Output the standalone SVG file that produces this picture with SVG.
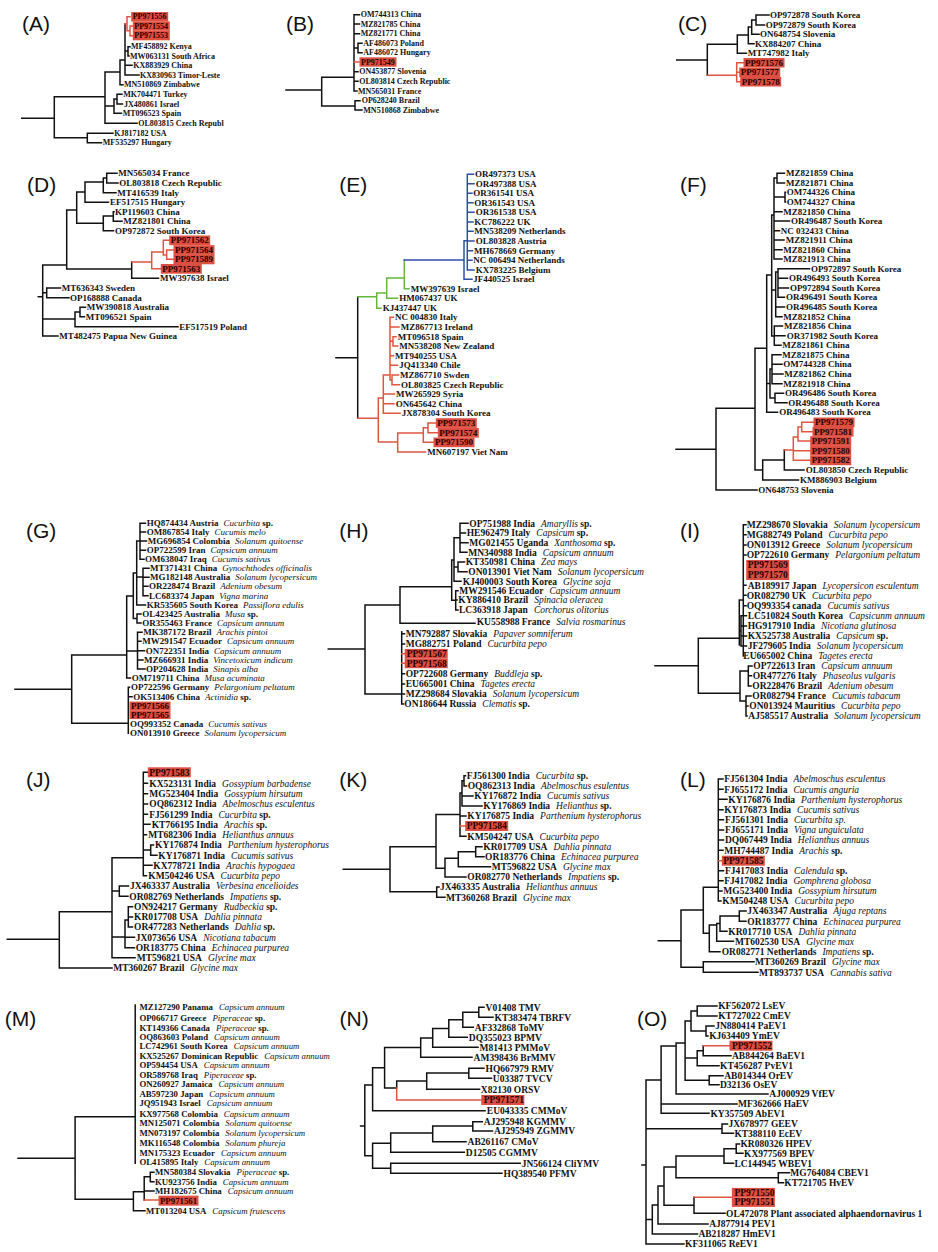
<svg xmlns="http://www.w3.org/2000/svg" width="938" height="1252" viewBox="0 0 938 1252">
<style>
text{font-family:"Liberation Serif","Times New Roman",serif;font-weight:bold;fill:#111}
.i{font-style:italic;font-weight:normal}
.pl{font-family:"Liberation Sans",Arial,sans-serif;font-weight:normal;font-size:21px;fill:#111}
.t{fill:none;stroke:#111;stroke-width:1.5;stroke-linecap:square}
.r{stroke:#e0553f}
.bl{stroke:#2c4fa6}
.gr{stroke:#63b83c}
.hl{fill:#dc4f42}
.ht{fill:#2a0000}
</style>
<rect width="938" height="1252" fill="#fff"/>

<!-- ===== A ===== -->
<g id="panelA">
<text class="pl" x="22" y="31">(A)</text>
<g id="A-edges" class="t">
<path d="M21.7 118.3H54.3M54.3 96.7V137.7M54.3 137.7H87.3M87.3 133.3V142.7M87.3 133.3H113M87.3 142.7H101.5M54.3 96.7H105M105 72V123.3M105 123.3H137M105 106H114M114 99V113.3M114 113.3H121.5M114 99H117M117 94.3V104M117 94.3H122M117 104H122.5M105 72H120M120 60V84.7M120 84.7H123M120 60H125M125 24V75M125 75H139M125 65.3H132M125 51H128M128 46.7V56M128 46.7H130M128 56H129"/>
<path class="r" d="M125 24H127M127 16.7V30.8M127 16.7H130M127 30.8H130M130 26V35.7M130 26H132.5M130 35.7H132.5"/>
</g>
<g font-size="8">
<g id="A-PP971556"><rect class="hl" x="131.2" y="12.1" width="37" height="9.4"/><text class="ht" x="132.7" y="19.4">PP971556</text></g>
<g id="A-PP971554"><rect class="hl" x="132.8" y="21.4" width="37" height="9.4"/><text class="ht" x="134.3" y="28.7">PP971554</text></g>
<g id="A-PP971553"><rect class="hl" x="132.8" y="30.9" width="37" height="9.4"/><text class="ht" x="134.3" y="38.4">PP971553</text></g>
<g id="A-MF458892"><text x="131" y="49.4">MF458892 Kenya</text></g>
<g id="A-MW063131"><text x="130" y="58.7">MW063131 South Africa</text></g>
<g id="A-KX883929"><text x="133.3" y="68">KX883929 China</text></g>
<g id="A-KX830963"><text x="140" y="77.7">KX830963 Timor-Leste</text></g>
<g id="A-MN510869"><text x="124" y="87.4">MN510869 Zimbabwe</text></g>
<g id="A-MK704471"><text x="123.3" y="97">MK704471 Turkey</text></g>
<g id="A-JX480861"><text x="124" y="106.7">JX480861 Israel</text></g>
<g id="A-MT096523"><text x="122.7" y="116">MT096523 Spain</text></g>
<g id="A-OL803815"><text x="138.3" y="126">OL803815 Czech Republ</text></g>
<g id="A-KJ817182"><text x="114.3" y="136">KJ817182 USA</text></g>
<g id="A-MF535297"><text x="102.7" y="145.4">MF535297 Hungary</text></g>
</g>
</g>

<!-- ===== B ===== -->
<g id="panelB">
<text class="pl" x="286" y="31">(B)</text>
<g id="B-edges" class="t">
<path d="M286 90H321.7M321.7 77.3V106M321.7 106H355M355 100.7V110M355 100.7H360M355 110H362M321.7 77.3H354M354 14.7V91M354 14.7H359.5M354 24H359.5M354 33.7H359.5M354 48H358M358 43.3V52.7M358 43.3H362M358 52.7H362M354 71.7H358M354 81.3H358M354 91H357"/>
<path class="r" d="M354 62H359"/>
</g>
<g font-size="8">
<g id="B-OM744313"><text x="360.7" y="17.4">OM744313 China</text></g>
<g id="B-MZ821785"><text x="360.7" y="26.7">MZ821785 China</text></g>
<g id="B-MZ821771"><text x="360.7" y="36.4">MZ821771 China</text></g>
<g id="B-AF486073"><text x="363.3" y="46">AF486073 Poland</text></g>
<g id="B-AF486072"><text x="363.3" y="55.4">AF486072 Hungary</text></g>
<g id="B-PP971549"><rect class="hl" x="359.5" y="57.3" width="37" height="9.4"/><text class="ht" x="361" y="64.7">PP971549</text></g>
<g id="B-ON453877"><text x="359.3" y="74.4">ON453877 Slovenia</text></g>
<g id="B-OL803814"><text x="359.3" y="84">OL803814 Czech Republic</text></g>
<g id="B-MN565031"><text x="358" y="93.7">MN565031 France</text></g>
<g id="B-OP628240"><text x="361.7" y="103.4">OP628240 Brazil</text></g>
<g id="B-MN510868"><text x="363.3" y="112.7">MN510868 Zimbabwe</text></g>
</g>
</g>

<!-- ===== C ===== -->
<g id="panelC">
<text class="pl" x="678" y="31">(C)</text>
<g id="C-edges" class="t">
<path d="M676.7 60H707.3M707.3 44.3V75.3M707.3 44.3H737.3M737.3 35V53.3M737.3 53.3H746.5M737.3 35H748.3M748.3 27V43.7M748.3 43.7H754M748.3 27H751.7M751.7 20V34.3M751.7 34.3H759M751.7 20H756M756 15V25M756 15H769M756 25H764.5"/>
<path class="r" d="M707.3 75.3H736.7M736.7 62.7V81.7M736.7 62.7H744M736.7 72.3H739.5M736.7 81.7H740.5"/>
</g>
<g font-size="9">
<g id="C-OP972878"><text x="770" y="18.1">OP972878 South Korea</text></g>
<g id="C-OP972879"><text x="765.7" y="28.1">OP972879 South Korea</text></g>
<g id="C-ON648754"><text x="760" y="37.4">ON648754 Slovenia</text></g>
<g id="C-KX884207"><text x="755" y="46.8">KX884207 China</text></g>
<g id="C-MT747982"><text x="747.7" y="56.4">MT747982 Italy</text></g>
<g id="C-PP971576"><rect class="hl" x="743.5" y="58" width="41" height="9.5"/><text class="ht" x="745" y="65.8">PP971576</text></g>
<g id="C-PP971577"><rect class="hl" x="739.2" y="67.6" width="41" height="9.5"/><text class="ht" x="740.7" y="75.4">PP971577</text></g>
<g id="C-PP971578"><rect class="hl" x="740.2" y="77" width="41" height="9.5"/><text class="ht" x="741.7" y="84.8">PP971578</text></g>
</g>
</g>

<!-- ===== D ===== -->
<g id="panelD">
<text class="pl" x="27" y="191.5">(D)</text>
<g id="D-edges" class="t">
<path d="M38.3 296.7H42.7M42.7 265V336M42.7 336H58M42.7 265H66.7M42.7 292.8H46.7M46.7 288V297.7M46.7 288H60.5M46.7 297.7H69M42.7 319H75M75 312V326.7M75 326.7H178M75 312H80M80 307.3V316.7M80 307.3H85.5M80 316.7H84.5M66.7 210V269M66.7 269H131.7M66.7 210H76.7M76.7 192V223.3M76.7 192H85M85 182V202.3M85 202.3H108.5M85 182H103.3M103.3 178V192.7M103.3 192.7H116M103.3 178H106.7M106.7 173.3V183M106.7 173.3H117M106.7 183H118M76.7 223.3H103.3M103.3 216V230.7M103.3 230.7H113.5M103.3 216H113.3M113.3 211.7V221.3M113.3 211.7H114M113.3 221.3H122M131.7 262V278.3M131.7 278.3H158.5"/>
<path class="r" d="M131.7 262H151.7M151.7 252V268.7M151.7 268.7H160.5M151.7 252H163.3M163.3 240.3V255M163.3 240.3H169M163.3 255H166.7M166.7 250V259.3M166.7 250H173.3M166.7 259.3H173.3"/>
</g>
<g font-size="9">
<g id="D-MN565034"><text x="118.3" y="176.4">MN565034 France</text></g>
<g id="D-OL803818"><text x="119.3" y="186.1">OL803818 Czech Republic</text></g>
<g id="D-MT416539"><text x="117.3" y="195.8">MT416539 Italy</text></g>
<g id="D-EF517515"><text x="110" y="205.4">EF517515 Hungary</text></g>
<g id="D-KP119603"><text x="115" y="214.8">KP119603 China</text></g>
<g id="D-MZ821801"><text x="123.3" y="224.4">MZ821801 China</text></g>
<g id="D-OP972872"><text x="115" y="233.8">OP972872 South Korea</text></g>
<g id="D-PP971562"><rect class="hl" x="169.2" y="235.5" width="41" height="9.7"/><text class="ht" x="170.7" y="243.4">PP971562</text></g>
<g id="D-PP971564"><rect class="hl" x="173.5" y="245.2" width="41" height="9.7"/><text class="ht" x="175" y="253.1">PP971564</text></g>
<g id="D-PP971589"><rect class="hl" x="173.5" y="254.6" width="41" height="9.7"/><text class="ht" x="175" y="262.4">PP971589</text></g>
<g id="D-PP971563"><rect class="hl" x="160.8" y="264" width="41" height="9.7"/><text class="ht" x="162.3" y="271.8">PP971563</text></g>
<g id="D-MW397638"><text x="160" y="281.4">MW397638 Israel</text></g>
<g id="D-MT636343"><text x="61.7" y="291.1">MT636343 Sweden</text></g>
<g id="D-OP168888"><text x="70" y="300.8">OP168888 Canada</text></g>
<g id="D-MW390818"><text x="86.7" y="310.4">MW390818 Australia</text></g>
<g id="D-MT096521"><text x="85.7" y="319.8">MT096521 Spain</text></g>
<g id="D-EF517519"><text x="179.3" y="329.8">EF517519 Poland</text></g>
<g id="D-MT482475"><text x="59.3" y="339.1">MT482475 Papua New Guinea</text></g>
</g>
</g>

<!-- ===== E ===== -->
<g id="panelE">
<text class="pl" x="339.3" y="191.5">(E)</text>
<g id="E-edges" class="t">
<path d="M336 357.7H357.7M357.7 296.7V418.3"/>
<path class="gr" d="M357.7 296.7H376.7M376.7 293V308.3M376.7 308.3H381M376.7 293H386.7M386.7 278V298.3M386.7 298.3H397.5M386.7 278H404.3M404.3 260V288.7M404.3 288.7H409"/>
<path class="bl" d="M404.3 260H464M464 240.7V279.3M464 279.3H472M464 240.7H467.3M467.3 174.3V270M467.3 174.3H473.5M467.3 183.7H474M467.3 193.3H472M467.3 202.7H473M467.3 212.3H474M467.3 222H473M467.3 231.3H473M467.3 241H474M467.3 250.7H472.5M467.3 260.3H472M467.3 270H474"/>
<path class="r" d="M357.7 418.3H378.3M378.3 398V442M378.3 442H397.7M378.3 398H383.3M383.3 375V413.3M383.3 413.3H400M383.3 403.7H394M383.3 394H394.5M383.3 375H390M390 317.3V380M390 317.3H393.5M390 327H399M390 341.3H393M393 336.7V346M393 336.7H396M393 346H397.7M390 355.7H393.5M390 365.3H397.5M390 380H392M392 375V384.7M392 375H398.5M392 384.7H399.5M397.7 433V452M397.7 452H425.5M397.7 433H423.3M423.3 427.8V442.3M423.3 442.3H433.3M423.3 427.8H428M428 423V432.7M428 423H435.5M428 432.7H437.5"/>
</g>
<g font-size="9">
<g id="E-OR497373"><text x="475" y="177.4">OR497373 USA</text></g>
<g id="E-OR497388"><text x="475.7" y="186.8">OR497388 USA</text></g>
<g id="E-OR361541"><text x="473.3" y="196.4">OR361541 USA</text></g>
<g id="E-OR361543"><text x="474.3" y="205.8">OR361543 USA</text></g>
<g id="E-OR361538"><text x="475.7" y="215.4">OR361538 USA</text></g>
<g id="E-KC786222"><text x="474.3" y="225.1">KC786222 UK</text></g>
<g id="E-MN538209"><text x="474.3" y="234.4">MN538209 Netherlands</text></g>
<g id="E-OL803828"><text x="475.7" y="244.1">OL803828 Austria</text></g>
<g id="E-MH678669"><text x="474" y="253.8">MH678669 Germany</text></g>
<g id="E-NC006494"><text x="473.3" y="263.4">NC 006494 Netherlands</text></g>
<g id="E-KX783225"><text x="475.7" y="273.1">KX783225 Belgium</text></g>
<g id="E-JF440525"><text x="473.3" y="282.4">JF440525 Israel</text></g>
<g id="E-MW397639"><text x="410.7" y="291.8">MW397639 Israel</text></g>
<g id="E-HM067437"><text x="399.3" y="301.4">HM067437 UK</text></g>
<g id="E-KJ437447"><text x="382.7" y="311.1">KJ437447 UK</text></g>
<g id="E-NC004830"><text x="395" y="320.4">NC 004830 Italy</text></g>
<g id="E-MZ867713"><text x="400.7" y="330.1">MZ867713 Ireland</text></g>
<g id="E-MT096518"><text x="397.7" y="339.8">MT096518 Spain</text></g>
<g id="E-MN538208"><text x="399.3" y="349.1">MN538208 New Zealand</text></g>
<g id="E-MT940255"><text x="395" y="358.8">MT940255 USA</text></g>
<g id="E-JQ413340"><text x="399.3" y="368.4">JQ413340 Chile</text></g>
<g id="E-MZ867710"><text x="400" y="378.1">MZ867710 Swden</text></g>
<g id="E-OL803825"><text x="401" y="387.8">OL803825 Czech Republic</text></g>
<g id="E-MW265929"><text x="396" y="397.1">MW265929 Syria</text></g>
<g id="E-ON645642"><text x="395.7" y="406.8">ON645642 China</text></g>
<g id="E-JX878304"><text x="401.7" y="416.4">JX878304 South Korea</text></g>
<g id="E-PP971573"><rect class="hl" x="435.8" y="418.2" width="41" height="9.7"/><text class="ht" x="437.3" y="426.1">PP971573</text></g>
<g id="E-PP971574"><rect class="hl" x="437.8" y="427.9" width="41" height="9.7"/><text class="ht" x="439.3" y="435.8">PP971574</text></g>
<g id="E-PP971590"><rect class="hl" x="433.5" y="437.5" width="41" height="9.7"/><text class="ht" x="435" y="445.4">PP971590</text></g>
<g id="E-MN607197"><text x="427.3" y="455.1">MN607197 Viet Nam</text></g>
</g>
</g>

<!-- ===== F ===== -->
<g id="panelF">
<text class="pl" x="680" y="191.5">(F)</text>
<g id="F-edges" class="t">
<path d="M676 449.3H716M716 408.3V490M716 490H757M716 408.3H755M755 348.3V470M755 470H762.7M762.7 460V480M762.7 480H798.5M762.7 460H784.3M784.3 450V470M784.3 470H804M755 348.3H766.7M766.7 275V412.3M766.7 412.3H777.5M766.7 275H771.7M766.7 383.5H770M771.7 215V336M771.7 215H774M771.7 290H775.7M771.7 336H774.3M774 178V259M774 178H777M777 173.3V183M777 173.3H784.5M777 183H784.5M774 197H785M785 192.3V202M785 192.3H785.5M785 202H785.5M774 211.7H782M774 221H789.5M774 230.7H779.5M774 240H784M774 249.7H782M774 259H782M775.7 272V316.7M775.7 272H778M778 268.7V297.3M778 268.7H809.5M778 278.3H787.5M778 288H788.5M778 297.3H784.5M775.7 307H784.5M775.7 316.7H782M774.3 326V345.3M774.3 326H782.5M774.3 335.7H785M774.3 345.3H781M770 369V398M770 369H772M772 354.7V383.7M772 354.7H781M772 364.3H782M772 374H783M772 383.7H782M770 398H775M775 393.3V402.7M775 393.3H783.5M775 402.7H787"/>
<path class="r" d="M784.3 450H793.3M793.3 437V460.3M793.3 460.3H810.5M793.3 450.7H810.5M793.3 437H798M798 427V441M798 441H810.5M798 427H801.7M801.7 422.3V431.7M801.7 422.3H813.5M801.7 431.7H812.5"/>
</g>
<g font-size="9">
<g id="F-MZ821859"><text x="786" y="176.4">MZ821859 China</text></g>
<g id="F-MZ821871"><text x="786" y="186.1">MZ821871 China</text></g>
<g id="F-OM744326"><text x="786.7" y="195.4">OM744326 China</text></g>
<g id="F-OM744327"><text x="786.7" y="205.1">OM744327 China</text></g>
<g id="F-MZ821850"><text x="783.3" y="214.8">MZ821850 China</text></g>
<g id="F-OR496487"><text x="791" y="224.1">OR496487 South Korea</text></g>
<g id="F-NC032433"><text x="780.7" y="233.8">NC 032433 China</text></g>
<g id="F-MZ821911"><text x="785.7" y="243.1">MZ821911 China</text></g>
<g id="F-MZ821860"><text x="783.3" y="252.8">MZ821860 China</text></g>
<g id="F-MZ821913"><text x="783.3" y="262.1">MZ821913 China</text></g>
<g id="F-OP972897"><text x="811" y="271.8">OP972897 South Korea</text></g>
<g id="F-OR496493"><text x="789" y="281.4">OR496493 South Korea</text></g>
<g id="F-OP972894"><text x="790" y="291.1">OP972894 South Korea</text></g>
<g id="F-OR496491"><text x="786" y="300.4">OR496491 South Korea</text></g>
<g id="F-OR496485"><text x="786" y="310.1">OR496485 South Korea</text></g>
<g id="F-MZ821852"><text x="783.3" y="319.8">MZ821852 China</text></g>
<g id="F-MZ821856"><text x="784" y="329.1">MZ821856 China</text></g>
<g id="F-OR371982"><text x="786.7" y="338.8">OR371982 South Korea</text></g>
<g id="F-MZ821861"><text x="782.3" y="348.4">MZ821861 China</text></g>
<g id="F-MZ821875"><text x="782.3" y="357.8">MZ821875 China</text></g>
<g id="F-OM744328"><text x="783.3" y="367.4">OM744328 China</text></g>
<g id="F-MZ821862"><text x="784.3" y="377.1">MZ821862 China</text></g>
<g id="F-MZ821918"><text x="783.3" y="386.8">MZ821918 China</text></g>
<g id="F-OR496486"><text x="785" y="396.4">OR496486 South Korea</text></g>
<g id="F-OR496488"><text x="788.3" y="405.8">OR496488 South Korea</text></g>
<g id="F-OR496483"><text x="779.3" y="415.4">OR496483 South Korea</text></g>
<g id="F-PP971579"><rect class="hl" x="813.5" y="417.5" width="41" height="9.7"/><text class="ht" x="815" y="425.4">PP971579</text></g>
<g id="F-PP971581"><rect class="hl" x="812.5" y="426.9" width="41" height="9.7"/><text class="ht" x="814" y="434.8">PP971581</text></g>
<g id="F-PP971591"><rect class="hl" x="810.2" y="436.2" width="41" height="9.7"/><text class="ht" x="811.7" y="444.1">PP971591</text></g>
<g id="F-PP971580"><rect class="hl" x="810.2" y="445.9" width="41" height="9.7"/><text class="ht" x="811.7" y="453.8">PP971580</text></g>
<g id="F-PP971582"><rect class="hl" x="810.2" y="455.5" width="41" height="9.7"/><text class="ht" x="811.7" y="463.4">PP971582</text></g>
<g id="F-OL803850"><text x="805.7" y="473.1">OL803850 Czech Republic</text></g>
<g id="F-KM886903"><text x="800" y="483.1">KM886903 Belgium</text></g>
<g id="F-ON648753"><text x="758.3" y="493.1">ON648753 Slovenia</text></g>
</g>
</g>

<!-- ===== G ===== -->
<g id="panelG">
<text class="pl" x="26" y="538">(G)</text>
<g id="G-edges" class="t">
<path d="M15 689.3H71.7M71.7 655V723.3M71.7 655H126.7M71.7 723.3H128.3M128.3 687.3V733.3M128.3 687.3H129.5M128.3 696.7H132M126.7 596V678M126.7 678H130.5M126.7 651H137.5M126.7 596H133.3M137.5 632.3V669M137.5 632.3H142M137.5 641.3H141M137.5 650.7H144.5M137.5 660H143M137.5 669H145M133.3 573V618.5M133.3 573H136.7M133.3 618.5H137M137 614V623M137 614H141M137 623H141M136.7 541V605M136.7 541H140M136.7 577H143M136.7 605H145.5M140 523.3V559.3M140 523.3H145.5M140 532H145.5M140 541H146.5M140 550.3H145.5M140 559.3H144M143 568.3V595.7M143 568.3H149M143 577.3H149M143 586.3H148M143 595.7H148"/>
</g>
<g font-size="9">
<g id="G-HQ874434"><text x="146.7" y="526.3">HQ874434 Austria<tspan class="i" dx="5">Cucurbita</tspan> sp.</text></g>
<g id="G-OM867854"><text x="146.7" y="535">OM867854 Italy<tspan class="i" dx="5">Cucumis melo</tspan></text></g>
<g id="G-MG696854"><text x="147.7" y="544">MG696854 Colombia<tspan class="i" dx="5">Solanum quitoense</tspan></text></g>
<g id="G-OP722599"><text x="146.7" y="553.3">OP722599 Iran<tspan class="i" dx="5">Capsicum annuum</tspan></text></g>
<g id="G-OM638047"><text x="145" y="562.3">OM638047 Iraq<tspan class="i" dx="5">Cucumis sativus</tspan></text></g>
<g id="G-MT371431"><text x="150" y="571.3">MT371431 China<tspan class="i" dx="5">Gynochthodes officinalis</tspan></text></g>
<g id="G-MG182148"><text x="150" y="580.3">MG182148 Australia<tspan class="i" dx="5">Solanum lycopersicum</tspan></text></g>
<g id="G-OR228474"><text x="149" y="589.3">OR228474 Brazil<tspan class="i" dx="5">Adenium obesum</tspan></text></g>
<g id="G-LC683374"><text x="149" y="598.7">LC683374 Japan<tspan class="i" dx="5">Vigna marina</tspan></text></g>
<g id="G-KR535605"><text x="146.7" y="608">KR535605 South Korea<tspan class="i" dx="5">Passiflora edulis</tspan></text></g>
<g id="G-OL423425"><text x="142.3" y="617">OL423425 Australia<tspan class="i" dx="5">Musa</tspan> sp.</text></g>
<g id="G-OR355463"><text x="142.3" y="626">OR355463 France<tspan class="i" dx="5">Capsicum annuum</tspan></text></g>
<g id="G-MK387172"><text x="143.3" y="635.3">MK387172 Brazil<tspan class="i" dx="5">Arachis pintoi</tspan></text></g>
<g id="G-MW291547"><text x="142.3" y="644.3">MW291547 Ecuador<tspan class="i" dx="5">Capsicum annuum</tspan></text></g>
<g id="G-ON722351"><text x="145.7" y="653.7">ON722351 India<tspan class="i" dx="5">Capsicum annuum</tspan></text></g>
<g id="G-MZ666931"><text x="144" y="663">MZ666931 India<tspan class="i" dx="5">Vincetoxicum indicum</tspan></text></g>
<g id="G-OP204628"><text x="146" y="672">OP204628 India<tspan class="i" dx="5">Sinapis alba</tspan></text></g>
<g id="G-OM719711"><text x="131.7" y="681">OM719711 China<tspan class="i" dx="5">Musa acuminata</tspan></text></g>
<g id="G-OP722596"><text x="131" y="690.3">OP722596 Germany<tspan class="i" dx="5">Pelargonium peltatum</tspan></text></g>
<g id="G-OK513406"><text x="133.3" y="699.7">OK513406 China<tspan class="i" dx="5">Actinidia</tspan> sp.</text></g>
<g id="G-PP971566"><rect class="hl" x="129.5" y="701.6" width="41" height="8.8"/><text class="ht" x="131" y="709">PP971566</text></g>
<g id="G-PP971565"><rect class="hl" x="129.5" y="710.3" width="41" height="8.8"/><text class="ht" x="131" y="717.7">PP971565</text></g>
<g id="G-OQ993352"><text x="130" y="727.3">OQ993352 Canada<tspan class="i" dx="5">Cucumis sativus</tspan></text></g>
<g id="G-ON013910"><text x="130" y="736.3">ON013910 Greece<tspan class="i" dx="5">Solanum lycopersicum</tspan></text></g>
</g>
</g>

<!-- ===== H ===== -->
<g id="panelH">
<text class="pl" x="339.3" y="538">(H)</text>
<g id="H-edges" class="t">
<path d="M328.3 649H365M365 605V694M365 605H400M365 694H401.7M401.7 631.7V704M401.7 633.7H404.5M401.7 644H404.5M401.7 673.7H404.5M401.7 684H404.5M401.7 694H404.5M401.7 704H403.5M400 586.7V623.3M400 623.3H475M400 586.7H451.7M451.7 560V600.3M451.7 600.3H455.7M455.7 590.7V610M455.7 590.7H458M455.7 600H457M455.7 610H458M451.7 560H454M454 537.8V581.3M454 581.3H461M454 537.8H460M460 523.3V552.3M460 523.3H468M460 533H465.5M460 542.7H468M460 552.3H467M454 567H458M458 562V571.7M458 562H464.5M458 571.7H467"/>
<path class="r" d="M401.7 653.7H404.5M401.7 663.3H404.5"/>
</g>
<g font-size="9.5">
<g id="H-OP751988"><text x="469.3" y="526.5">OP751988 India<tspan class="i" dx="6">Amaryllis</tspan> sp.</text></g>
<g id="H-HE962479"><text x="466.7" y="536.2">HE962479 Italy<tspan class="i" dx="6">Capsicum</tspan> sp.</text></g>
<g id="H-MG021455"><text x="469.3" y="545.9">MG021455 Uganda<tspan class="i" dx="6">Xanthosoma</tspan> sp.</text></g>
<g id="H-MN340988"><text x="468.3" y="555.5">MN340988 India<tspan class="i" dx="6">Capsicum annuum</tspan></text></g>
<g id="H-KT350981"><text x="465.7" y="565.2">KT350981 China<tspan class="i" dx="6">Zea mays</tspan></text></g>
<g id="H-ON013901"><text x="468.3" y="574.9">ON013901 Viet Nam<tspan class="i" dx="6">Solanum lycopersicum</tspan></text></g>
<g id="H-KJ400003"><text x="462.7" y="584.5">KJ400003 South Korea<tspan class="i" dx="6">Glycine soja</tspan></text></g>
<g id="H-MW291546"><text x="459.3" y="593.9">MW291546 Ecuador<tspan class="i" dx="6">Capsicum annuum</tspan></text></g>
<g id="H-KY886410"><text x="458.3" y="603.2">KY886410 Brazil<tspan class="i" dx="6">Spinacia oleracea</tspan></text></g>
<g id="H-LC363918"><text x="459" y="613.2">LC363918 Japan<tspan class="i" dx="6">Corchorus olitorius</tspan></text></g>
<g id="H-KU558988"><text x="476.7" y="624.9">KU558988 France<tspan class="i" dx="6">Salvia rosmarinus</tspan></text></g>
<g id="H-MN792887"><text x="405.7" y="636.9">MN792887 Slovakia<tspan class="i" dx="6">Papaver somniferum</tspan></text></g>
<g id="H-MG882751"><text x="405.7" y="647.2">MG882751 Poland<tspan class="i" dx="6">Cucurbita pepo</tspan></text></g>
<g id="H-PP971567"><rect class="hl" x="404.7" y="648.9" width="43" height="9.7"/><text class="ht" x="406.7" y="656.9">PP971567</text></g>
<g id="H-PP971568"><rect class="hl" x="404.7" y="658.5" width="43" height="9.7"/><text class="ht" x="406.7" y="666.5">PP971568</text></g>
<g id="H-OP722608"><text x="405.7" y="676.9">OP722608 Germany<tspan class="i" dx="6">Buddleja</tspan> sp.</text></g>
<g id="H-EU665001"><text x="405.7" y="687.2">EU665001 China<tspan class="i" dx="6">Tagetes erecta</tspan></text></g>
<g id="H-MZ298684"><text x="405.7" y="697.2">MZ298684 Slovakia<tspan class="i" dx="6">Solanum lycopersicum</tspan></text></g>
<g id="H-ON186644"><text x="404.3" y="707.2">ON186644 Russia<tspan class="i" dx="6">Clematis</tspan> sp.</text></g>
</g>
</g>

<!-- ===== I ===== -->
<g id="panelI">
<text class="pl" x="680" y="538">(I)</text>
<g id="I-edges" class="t">
<path d="M655 665.7H698.3M698.3 638.3V693.3M698.3 638.3H739.3M739.3 600V645M739.3 600H743.3M739.3 631H741M743.3 524.7V656M743.3 524.7H746M743.3 534.7H746M743.3 545H746M743.3 555H746M743.3 585.3H746M743.3 595.3H746M743.3 605.7H746M741 615.7V646M741 615.7H746.5M741 626H746.5M741 636H746.5M741 646H746.5M698.3 693.3H740M740 671V701M740 671H748.3M748.3 666V686M748.3 666H752M748.3 675.7H751.5M748.3 686H751M740 701H746M746 696V716M746 696H751M746 706H748M746 716H747"/>
</g>
<g font-size="9.5">
<g id="I-MZ298670"><text x="746.7" y="527.9">MZ298670 Slovakia<tspan class="i" dx="6">Solanum lycopersicum</tspan></text></g>
<g id="I-MG882749"><text x="746.7" y="537.9">MG882749 Poland<tspan class="i" dx="6">Cucurbita pepo</tspan></text></g>
<g id="I-ON013912"><text x="746.7" y="548.2">ON013912 Greece<tspan class="i" dx="6">Solanum lycopersicum</tspan></text></g>
<g id="I-OP722610"><text x="746.7" y="558.2">OP722610 Germany<tspan class="i" dx="6">Pelargonium peltatum</tspan></text></g>
<g id="I-PP971569"><rect class="hl" x="746.2" y="560" width="43" height="10"/><text class="ht" x="747.7" y="568.2">PP971569</text></g>
<g id="I-PP971570"><rect class="hl" x="746.2" y="570" width="43" height="10"/><text class="ht" x="747.7" y="578.2">PP971570</text></g>
<g id="I-AB189917"><text x="747.7" y="588.5">AB189917 Japan<tspan class="i" dx="6">Lycopersicon esculentum</tspan></text></g>
<g id="I-OR082790"><text x="746.7" y="598.5">OR082790 UK<tspan class="i" dx="6">Cucurbita pepo</tspan></text></g>
<g id="I-OQ993354"><text x="746.7" y="608.9">OQ993354 canada<tspan class="i" dx="6">Cucumis sativus</tspan></text></g>
<g id="I-LC510824"><text x="747.7" y="618.9">LC510824 South Korea<tspan class="i" dx="6">Capsicunm annuum</tspan></text></g>
<g id="I-HG917910"><text x="747.7" y="629.2">HG917910 India<tspan class="i" dx="6">Nicotiana glutinosa</tspan></text></g>
<g id="I-KX525738"><text x="747.7" y="639.2">KX525738 Australia<tspan class="i" dx="6">Capsicum</tspan> sp.</text></g>
<g id="I-JF279605"><text x="747.7" y="649.2">JF279605 India<tspan class="i" dx="6">Solanum lycopersicum</tspan></text></g>
<g id="I-EU665002"><text x="743.3" y="659.2">EU665002 China<tspan class="i" dx="6">Tagetes erecta</tspan></text></g>
<g id="I-OP722613"><text x="753.3" y="669.2">OP722613 Iran<tspan class="i" dx="6">Capsicum annuum</tspan></text></g>
<g id="I-OR477276"><text x="752.7" y="678.9">OR477276 Italy<tspan class="i" dx="6">Phaseolus vulgaris</tspan></text></g>
<g id="I-OR228476"><text x="752.3" y="689.2">OR228476 Brazil<tspan class="i" dx="6">Adenium obesum</tspan></text></g>
<g id="I-OR082794"><text x="752.3" y="699.2">OR082794 France<tspan class="i" dx="6">Cucumis tabacum</tspan></text></g>
<g id="I-ON013924"><text x="749.3" y="709.2">ON013924 Mauritius<tspan class="i" dx="6">Cucurbita pepo</tspan></text></g>
<g id="I-AJ585517"><text x="748.3" y="719.2">AJ585517 Australia<tspan class="i" dx="6">Solanum lycopersicum</tspan></text></g>
</g>
</g>

<!-- ===== J ===== -->
<g id="panelJ">
<text class="pl" x="26" y="787">(J)</text>
<g id="J-edges" class="t">
<path d="M7.3 939.3H59.3M59.3 911.7V968M59.3 968H112M59.3 911.7H112M112 857.7V957.7M112 857.7H143.3M112 891H119.3M112 937H125M112 957.7H135M143.3 772.3V875.7M143.3 772.3H147.5M143.3 783.3H147.5M143.3 793.7H147.5M143.3 804H147.5M143.3 814.3H147.5M143.3 824.3H150M143.3 834.7H146.5M143.3 850H150.7M150.7 845V855.3M150.7 845H153.5M150.7 855.3H157M143.3 865.3H152M143.3 875.7H146.5M119.3 886V896.3M119.3 886H128.5M119.3 896.3H128M125 920V947.7M125 920H128.3M125 937.3H134.5M125 947.7H134.5M128.3 906.7V927M128.3 906.7H132.5M128.3 917H132.5M128.3 927H132.5"/>
</g>
<g font-size="9.5">
<g id="J-PP971583"><rect class="hl" x="147.8" y="767.3" width="43" height="10"/><text class="ht" x="149.3" y="775.5">PP971583</text></g>
<g id="J-KX523131"><text x="149.3" y="786.5">KX523131 India<tspan class="i" dx="6">Gossypium barbadense</tspan></text></g>
<g id="J-MG523404"><text x="149.3" y="796.9">MG523404 India<tspan class="i" dx="6">Gossypium hirsutum</tspan></text></g>
<g id="J-OQ862312"><text x="149.3" y="807.2">OQ862312 India<tspan class="i" dx="6">Abelmoschus esculentus</tspan></text></g>
<g id="J-FJ561299"><text x="149.3" y="817.5">FJ561299 India<tspan class="i" dx="6">Cucurbita</tspan> sp.</text></g>
<g id="J-KT766195"><text x="151.7" y="827.5">KT766195 India<tspan class="i" dx="6">Arachis</tspan> sp.</text></g>
<g id="J-MT682306"><text x="148.3" y="837.9">MT682306 India<tspan class="i" dx="6">Helianthus annuus</tspan></text></g>
<g id="J-KY176874"><text x="155" y="848.2">KY176874 India<tspan class="i" dx="6">Parthenium hysterophorus</tspan></text></g>
<g id="J-KY176871"><text x="158.3" y="858.5">KY176871 India<tspan class="i" dx="6">Cucumis sativus</tspan></text></g>
<g id="J-KX778721"><text x="153.3" y="868.5">KX778721 India<tspan class="i" dx="6">Arachis hypogaea</tspan></text></g>
<g id="J-KM504246"><text x="148.3" y="878.9">KM504246 USA<tspan class="i" dx="6">Cucurbita pepo</tspan></text></g>
<g id="J-JX463337"><text x="130" y="889.2">JX463337 Australia<tspan class="i" dx="6">Verbesina encelioides</tspan></text></g>
<g id="J-OR082769"><text x="129.3" y="899.5">OR082769 Netherlands<tspan class="i" dx="6">Impatiens</tspan> sp.</text></g>
<g id="J-ON924217"><text x="134" y="909.9">ON924217 Germany<tspan class="i" dx="6">Rudbeckia</tspan> sp.</text></g>
<g id="J-KR017708"><text x="134" y="920.2">KR017708 USA<tspan class="i" dx="6">Dahlia pinnata</tspan></text></g>
<g id="J-OR477283"><text x="134" y="930.2">OR477283 Netherlands<tspan class="i" dx="6">Dahlia</tspan> sp.</text></g>
<g id="J-JX073656"><text x="135.7" y="940.5">JX073656 USA<tspan class="i" dx="6">Nicotiana tabacum</tspan></text></g>
<g id="J-OR183775"><text x="135.7" y="950.9">OR183775 China<tspan class="i" dx="6">Echinacea purpurea</tspan></text></g>
<g id="J-MT596821"><text x="136.7" y="960.9">MT596821 USA<tspan class="i" dx="6">Glycine max</tspan></text></g>
<g id="J-MT360267"><text x="113.3" y="971.2">MT360267 Brazil<tspan class="i" dx="6">Glycine max</tspan></text></g>
</g>
</g>

<!-- ===== K ===== -->
<g id="panelK">
<text class="pl" x="339.3" y="787">(K)</text>
<g id="K-edges" class="t">
<path d="M343.3 869.3H390M390 846.7V891.7M390 846.7H436M390 891.7H436.7M436.7 887V897.3M436.7 887H439M436.7 897.3H445M436 814.6V868.3M436 814.6H460M436 868.3H445M445 858.3V877M445 877H466M445 858.3H458.3M458.3 851.7V866.7M458.3 866.7H490.5M458.3 851.7H475.7M475.7 846.7V856.7M475.7 846.7H482M475.7 856.7H484M460 793V836.3M460 836.3H466M460 816H466M460 793H462M462 780.8V806M462 780.8H464M464 775.7V786M464 775.7H465.5M464 786H466.5M462 796H473M462 806H482"/>
<path class="r" d="M460 826H465.2"/>
</g>
<g font-size="9.5">
<g id="K-FJ561300"><text x="466.7" y="778.9">FJ561300 India<tspan class="i" dx="6">Cucurbita</tspan> sp.</text></g>
<g id="K-OQ862313"><text x="467.7" y="789.2">OQ862313 India<tspan class="i" dx="6">Abelmoschus esulentus</tspan></text></g>
<g id="K-KY176872"><text x="474.3" y="799.2">KY176872 India<tspan class="i" dx="6">Cucumis sativus</tspan></text></g>
<g id="K-KY176869"><text x="483.3" y="809.2">KY176869 India<tspan class="i" dx="6">Helianthus</tspan> sp.</text></g>
<g id="K-KY176875"><text x="467.3" y="819.2">KY176875 India<tspan class="i" dx="6">Parthenium hysterophorus</tspan></text></g>
<g id="K-PP971584"><rect class="hl" x="465.2" y="821" width="43" height="10"/><text class="ht" x="466.7" y="829.2">PP971584</text></g>
<g id="K-KM504247"><text x="467.3" y="839.5">KM504247 USA<tspan class="i" dx="6">Cucurbita pepo</tspan></text></g>
<g id="K-KR017709"><text x="483.3" y="849.9">KR017709 USA<tspan class="i" dx="6">Dahlia pinnata</tspan></text></g>
<g id="K-OR183776"><text x="485" y="859.9">OR183776 China<tspan class="i" dx="6">Echinacea purpurea</tspan></text></g>
<g id="K-MT596822"><text x="491.7" y="869.9">MT596822 USA<tspan class="i" dx="6">Glycine max</tspan></text></g>
<g id="K-OR082770"><text x="467.3" y="880.2">OR082770 Netherlands<tspan class="i" dx="6">Impatiens</tspan> sp.</text></g>
<g id="K-JX463335"><text x="440" y="890.2">JX463335 Australia<tspan class="i" dx="6">Helianthus annuus</tspan></text></g>
<g id="K-MT360268"><text x="446" y="900.5">MT360268 Brazil<tspan class="i" dx="6">Glycine max</tspan></text></g>
</g>
</g>

<!-- ===== L ===== -->
<g id="panelL">
<text class="pl" x="680" y="787">(L)</text>
<g id="L-edges" class="t">
<path d="M658.3 940.7H681M681 910V967.3M681 967.3H703.3M703.3 961.7V972.3M703.3 961.7H754M703.3 972.3H758M681 910H703.3M703.3 887.3V933.3M703.3 887.3H718.3M703.3 933.3H709.3M718.3 779V901M718.3 779H723M718.3 789.3H723M718.3 799.3H727M718.3 809.7H723M718.3 819.7H723.5M718.3 830H723.5M718.3 840H723.5M718.3 850.3H723M718.3 870.7H723.5M718.3 880.7H723M718.3 891H722M718.3 901H721M709.3 925V951.7M709.3 951.7H720M709.3 925H716.7M716.7 923.6V941.3M716.7 941.3H733.5M716.7 923.6H720M720 916V931.3M720 931.3H727M720 916H739.3M739.3 911V921.3M739.3 911H746M739.3 921.3H746"/>
<path class="r" d="M718.3 860.7H721.8"/>
</g>
<g font-size="9.5">
<g id="L-FJ561304"><text x="724.3" y="782.2">FJ561304 India<tspan class="i" dx="6">Abelmoschus esculentus</tspan></text></g>
<g id="L-FJ655172"><text x="724.3" y="792.5">FJ655172 India<tspan class="i" dx="6">Cucumis anguria</tspan></text></g>
<g id="L-KY176876"><text x="728.3" y="802.5">KY176876 India<tspan class="i" dx="6">Parthenium hysterophorus</tspan></text></g>
<g id="L-KY176873"><text x="724.3" y="812.9">KY176873 India<tspan class="i" dx="6">Cucumis sativus</tspan></text></g>
<g id="L-FJ561301"><text x="725" y="822.9">FJ561301 India<tspan class="i" dx="6">Cucurbita sp.</tspan></text></g>
<g id="L-FJ655171"><text x="725" y="833.2">FJ655171 India<tspan class="i" dx="6">Vigna unguiculata</tspan></text></g>
<g id="L-DQ067449"><text x="725" y="843.2">DQ067449 India<tspan class="i" dx="6">Helianthus annuus</tspan></text></g>
<g id="L-MH744487"><text x="724.3" y="853.5">MH744487 India<tspan class="i" dx="6">Arachis</tspan> sp.</text></g>
<g id="L-PP971585"><rect class="hl" x="721.8" y="855.7" width="43" height="10"/><text class="ht" x="723.3" y="863.9">PP971585</text></g>
<g id="L-FJ417083"><text x="725" y="873.9">FJ417083 India<tspan class="i" dx="6">Calendula</tspan> sp.</text></g>
<g id="L-FJ417082"><text x="724.3" y="883.9">FJ417082 India<tspan class="i" dx="6">Gomphrena globosa</tspan></text></g>
<g id="L-MG523400"><text x="723.3" y="894.2">MG523400 India<tspan class="i" dx="6">Gossypium hirsutum</tspan></text></g>
<g id="L-KM504248"><text x="722.3" y="904.2">KM504248 USA<tspan class="i" dx="6">Cucurbita pepo</tspan></text></g>
<g id="L-JX463347"><text x="747.3" y="914.2">JX463347 Australia<tspan class="i" dx="6">Ajuga reptans</tspan></text></g>
<g id="L-OR183777"><text x="747.3" y="924.5">OR183777 China<tspan class="i" dx="6">Echinacea purpurea</tspan></text></g>
<g id="L-KR017710"><text x="728.3" y="934.5">KR017710 USA<tspan class="i" dx="6">Dahlia pinnata</tspan></text></g>
<g id="L-MT602530"><text x="735" y="944.5">MT602530 USA<tspan class="i" dx="6">Glycine max</tspan></text></g>
<g id="L-OR082771"><text x="721.7" y="954.9">OR082771 Netherlands<tspan class="i" dx="6">Impatiens</tspan> sp.</text></g>
<g id="L-MT360269"><text x="755" y="964.9">MT360269 Brazil<tspan class="i" dx="6">Glycine max</tspan></text></g>
<g id="L-MT893737"><text x="759" y="975.5">MT893737 USA<tspan class="i" dx="6">Cannabis sativa</tspan></text></g>
</g>
</g>

<!-- ===== M ===== -->
<g id="panelM">
<text class="pl" x="4.8" y="1026">(M)</text>
<g id="M-edges" class="t">
<path d="M18 1158.3H75.1M75.1 1116.7V1199.3M75.1 1116.7H135.2M135.2 1005V1163.3M75.1 1199.3H133.4M133.4 1191.7V1210.7M133.4 1210.7H145M133.4 1191.7H144.2M144.2 1176.7V1200M144.2 1191H154M144.2 1176.7H150.3M150.3 1172.3V1181.7M150.3 1172.3H154M150.3 1181.7H154"/>
<path class="r" d="M144.2 1200H158.5"/>
</g>
<g font-size="8.8">
<g id="M-MZ127290"><text x="139.4" y="1010.3">MZ127290 Panama<tspan class="i" dx="6">Capsicum annuum</tspan></text></g>
<g id="M-OP066717"><text x="139.4" y="1021">OP066717 Greece<tspan class="i" dx="6">Piperaceae</tspan> sp.</text></g>
<g id="M-KT149366"><text x="139.4" y="1031">KT149366 Canada<tspan class="i" dx="6">Piperaceae</tspan> sp.</text></g>
<g id="M-OQ863603"><text x="139.4" y="1040.3">OQ863603 Poland<tspan class="i" dx="6">Capsicum annuum</tspan></text></g>
<g id="M-LC742961"><text x="139.4" y="1049">LC742961 South Korea<tspan class="i" dx="6">Capsicum annuum</tspan></text></g>
<g id="M-KX525267"><text x="139.4" y="1059">KX525267 Dominican Republic<tspan class="i" dx="6">Capsicum annuum</tspan></text></g>
<g id="M-OP594454"><text x="139.4" y="1068">OP594454 USA<tspan class="i" dx="6">Capsicum annuum</tspan></text></g>
<g id="M-OR589768"><text x="139.4" y="1077.7">OR589768 Iraq<tspan class="i" dx="6">Piperaceae</tspan> sp.</text></g>
<g id="M-ON260927"><text x="139.4" y="1087.3">ON260927 Jamaica<tspan class="i" dx="6">Capsicum annuum</tspan></text></g>
<g id="M-AB597230"><text x="139.4" y="1097">AB597230 Japan<tspan class="i" dx="6">Capsicum annuum</tspan></text></g>
<g id="M-JQ951943"><text x="139.4" y="1106.3">JQ951943 Israel<tspan class="i" dx="6">Capsicum annuum</tspan></text></g>
<g id="M-KX977568"><text x="139.4" y="1117">KX977568 Colombia<tspan class="i" dx="6">Capsicum annuum</tspan></text></g>
<g id="M-MN125071"><text x="139.4" y="1126">MN125071 Colombia<tspan class="i" dx="6">Solanum quitoense</tspan></text></g>
<g id="M-MN073197"><text x="139.4" y="1135.7">MN073197 Colombia<tspan class="i" dx="6">Solanum lycopersicum</tspan></text></g>
<g id="M-MK116548"><text x="139.4" y="1145.7">MK116548 Colombia<tspan class="i" dx="6">Solanum phureja</tspan></text></g>
<g id="M-MN175323"><text x="139.4" y="1155.7">MN175323 Ecuador<tspan class="i" dx="6">Capsicum annuum</tspan></text></g>
<g id="M-OL415895"><text x="139.4" y="1165.3">OL415895 Italy<tspan class="i" dx="6">Capsicum annuum</tspan></text></g>
<g id="M-MN580384"><text x="155" y="1175.3">MN580384 Slovakia<tspan class="i" dx="6">Piperaceae</tspan> sp.</text></g>
<g id="M-KU923756"><text x="155" y="1184.7">KU923756 India<tspan class="i" dx="6">Capsicum annuum</tspan></text></g>
<g id="M-MH182675"><text x="155" y="1194">MH182675 China<tspan class="i" dx="6">Capsicum annuum</tspan></text></g>
<g id="M-PP971561"><rect class="hl" x="158.5" y="1195.7" width="40" height="10"/><text class="ht" x="160" y="1203.7">PP971561</text></g>
<g id="M-MT013204"><text x="146" y="1213.7">MT013204 USA<tspan class="i" dx="6">Capsicum frutescens</tspan></text></g>
</g>
</g>

<!-- ===== N ===== -->
<g id="panelN">
<text class="pl" x="339.6" y="1026">(N)</text>
<g id="N-edges" class="t">
<path d="M360.6 1126H364.8M364.8 1085V1155.8M364.8 1085H372.6M364.8 1155.8H372.6M372.6 1067.8V1110.7M372.6 1110.7H485M372.6 1067.8H384.6M384.6 1047.6V1088M384.6 1047.6H420.7M384.6 1088H396.7M396.7 1081V1088M396.7 1081H426.7M426.7 1073V1089.3M426.7 1089.3H479.5M426.7 1073H468.8M468.8 1068.3V1078.3M468.8 1068.3H484M468.8 1078.3H491.5M420.7 1038V1057.3M420.7 1057.3H472M420.7 1038H432.7M432.7 1028.5V1047.3M432.7 1047.3H478M432.7 1028.5H448.8M448.8 1019.8V1037.3M448.8 1037.3H467.3M448.8 1019.8H462.8M462.8 1012.3V1027.3M462.8 1027.3H473.3M462.8 1012.3H478.8M478.8 1007.3V1017.3M478.8 1007.3H484M478.8 1017.3H493M372.6 1143.3V1168.3M372.6 1143.3H390.7M372.6 1168.3H390.7M390.7 1133V1152.3M390.7 1133H432.7M390.7 1152.3H464.3M432.7 1126V1141.7M432.7 1141.7H466M432.7 1126H472.8M472.8 1121.7V1131M472.8 1121.7H482.3M472.8 1131H492.5M390.7 1163.3V1173.3M390.7 1163.3H520.2M390.7 1173.3H502"/>
<path class="r" d="M396.7 1088V1100M396.7 1100H481.3"/>
</g>
<g font-size="9.5">
<g id="N-V01408"><text x="485.6" y="1010.5">V01408 TMV</text></g>
<g id="N-KT383474"><text x="494.6" y="1020.5">KT383474 TBRFV</text></g>
<g id="N-AF332868"><text x="474.8" y="1030.5">AF332868 ToMV</text></g>
<g id="N-DQ355023"><text x="468.8" y="1040.5">DQ355023 BPMV</text></g>
<g id="N-M81413"><text x="479.6" y="1050.5">M81413 PMMoV</text></g>
<g id="N-AM398436"><text x="473.6" y="1060.5">AM398436 BrMMV</text></g>
<g id="N-HQ667979"><text x="485.6" y="1071.5">HQ667979 RMV</text></g>
<g id="N-U03387"><text x="492.8" y="1081.5">U03387 TVCV</text></g>
<g id="N-X82130"><text x="480.8" y="1092.5">X82130 ORSV</text></g>
<g id="N-PP971571"><rect class="hl" x="481.3" y="1095" width="43" height="10"/><text class="ht" x="483.8" y="1103.2">PP971571</text></g>
<g id="N-EU043335"><text x="486.8" y="1113.9">EU043335 CMMoV</text></g>
<g id="N-AJ295948"><text x="483.8" y="1124.9">AJ295948 KGMMV</text></g>
<g id="N-AJ295949"><text x="494" y="1134.2">AJ295949 ZGMMV</text></g>
<g id="N-AB261167"><text x="467.6" y="1144.9">AB261167 CMoV</text></g>
<g id="N-D12505"><text x="465.8" y="1155.5">D12505 CGMMV</text></g>
<g id="N-JN566124"><text x="521.7" y="1166.5">JN566124 CliYMV</text></g>
<g id="N-HQ389540"><text x="503.6" y="1176.5">HQ389540 PFMV</text></g>
</g>
</g>

<!-- ===== O ===== -->
<g id="panelO">
<text class="pl" x="637" y="1026">(O)</text>
<g id="O-edges" class="t">
<path d="M641.9 1165H646M646 1080V1244M646 1244H684M646 1080H661.1M646 1128.7H722M646 1219.5H652.3M661.1 1046V1113.3M661.1 1046H676.1M661.1 1104H737M661.1 1113.3H709M676.1 1043V1094M676.1 1043H685.1M676.1 1094H768M685.1 1021V1080.2M685.1 1021H691M685.1 1058H697.2M685.1 1080.2H709.2M691 1011V1031M691 1011H697.2M691 1031H706M697.2 1006V1016M697.2 1006H717M697.2 1016H717M706 1026V1036M706 1026H714M706 1036H708M697.2 1050.7V1065.7M697.2 1065.7H719M697.2 1050.7H703.2M703.2 1045.7V1055.7M703.2 1055.7H731M709.2 1075.7V1084.7M709.2 1075.7H723M709.2 1084.7H719M722 1124V1133.3M722 1124H727.5M722 1133.3H733.5M652.3 1205V1234M652.3 1234H697.5M652.3 1205H658M658 1186V1224M658 1224H708M658 1186H664M664 1167V1205.3M664 1167H676M664 1205.3H694M676 1156V1177.7M676 1156H724M676 1177.7H778.3M724 1148.7V1163.3M724 1163.3H733.5M724 1148.7H736.2M736.2 1144V1153.3M736.2 1144H739.5M736.2 1153.3H743M778.3 1172.7V1182.7M778.3 1172.7H789.5M778.3 1182.7H783.5M694 1197.3V1213.3M694 1213.3H725"/>
<path class="r" d="M703.2 1045.7H729.5M694 1197.3H731.9"/>
</g>
<g font-size="9.5">
<g id="O-KF562072"><text x="718.2" y="1009.2">KF562072 LsEV</text></g>
<g id="O-KT727022"><text x="718.2" y="1019.2">KT727022 CmEV</text></g>
<g id="O-JN880414"><text x="715.2" y="1029.2">JN880414 PaEV1</text></g>
<g id="O-KJ634409"><text x="709.2" y="1039.2">KJ634409 YmEV</text></g>
<g id="O-PP971552"><rect class="hl" x="729.5" y="1040.7" width="43" height="10"/><text class="ht" x="732" y="1048.9">PP971552</text></g>
<g id="O-AB844264"><text x="732" y="1058.9">AB844264 BaEV1</text></g>
<g id="O-KT456287"><text x="720" y="1068.9">KT456287 PvEV1</text></g>
<g id="O-AB014344"><text x="724.2" y="1078.9">AB014344 OrEV</text></g>
<g id="O-D32136"><text x="720" y="1087.9">D32136 OsEV</text></g>
<g id="O-AJ000929"><text x="769.3" y="1097.2">AJ000929 VfEV</text></g>
<g id="O-MF362666"><text x="738" y="1107.2">MF362666 HaEV</text></g>
<g id="O-KY357509"><text x="710.4" y="1116.5">KY357509 AbEV1</text></g>
<g id="O-JX678977"><text x="728.4" y="1127.2">JX678977 GEEV</text></g>
<g id="O-KT388110"><text x="734.4" y="1136.5">KT388110 EcEV</text></g>
<g id="O-KR080326"><text x="740.4" y="1147.2">KR080326 HPEV</text></g>
<g id="O-KX977569"><text x="744" y="1156.5">KX977569 BPEV</text></g>
<g id="O-LC144945"><text x="734.4" y="1166.5">LC144945 WBEV1</text></g>
<g id="O-MG764084"><text x="790.3" y="1175.9">MG764084 CBEV1</text></g>
<g id="O-KT721705"><text x="784.3" y="1185.9">KT721705 HvEV</text></g>
<g id="O-PP971550"><rect class="hl" x="731.9" y="1187.9" width="43" height="9.5"/><text class="ht" x="734.4" y="1195.9">PP971550</text></g>
<g id="O-PP971551"><rect class="hl" x="731.9" y="1197.4" width="43" height="9.5"/><text class="ht" x="734.4" y="1205.2">PP971551</text></g>
<g id="O-OL472078"><text x="726" y="1216.5">OL472078 Plant associated alphaendornavirus 1</text></g>
<g id="O-AJ877914"><text x="709.2" y="1227.2">AJ877914 PEV1</text></g>
<g id="O-AB218287"><text x="698.4" y="1237.2">AB218287 HmEV1</text></g>
<g id="O-KF311065"><text x="685.1" y="1247.2">KF311065 ReEV1</text></g>
</g>
</g>
</svg>
